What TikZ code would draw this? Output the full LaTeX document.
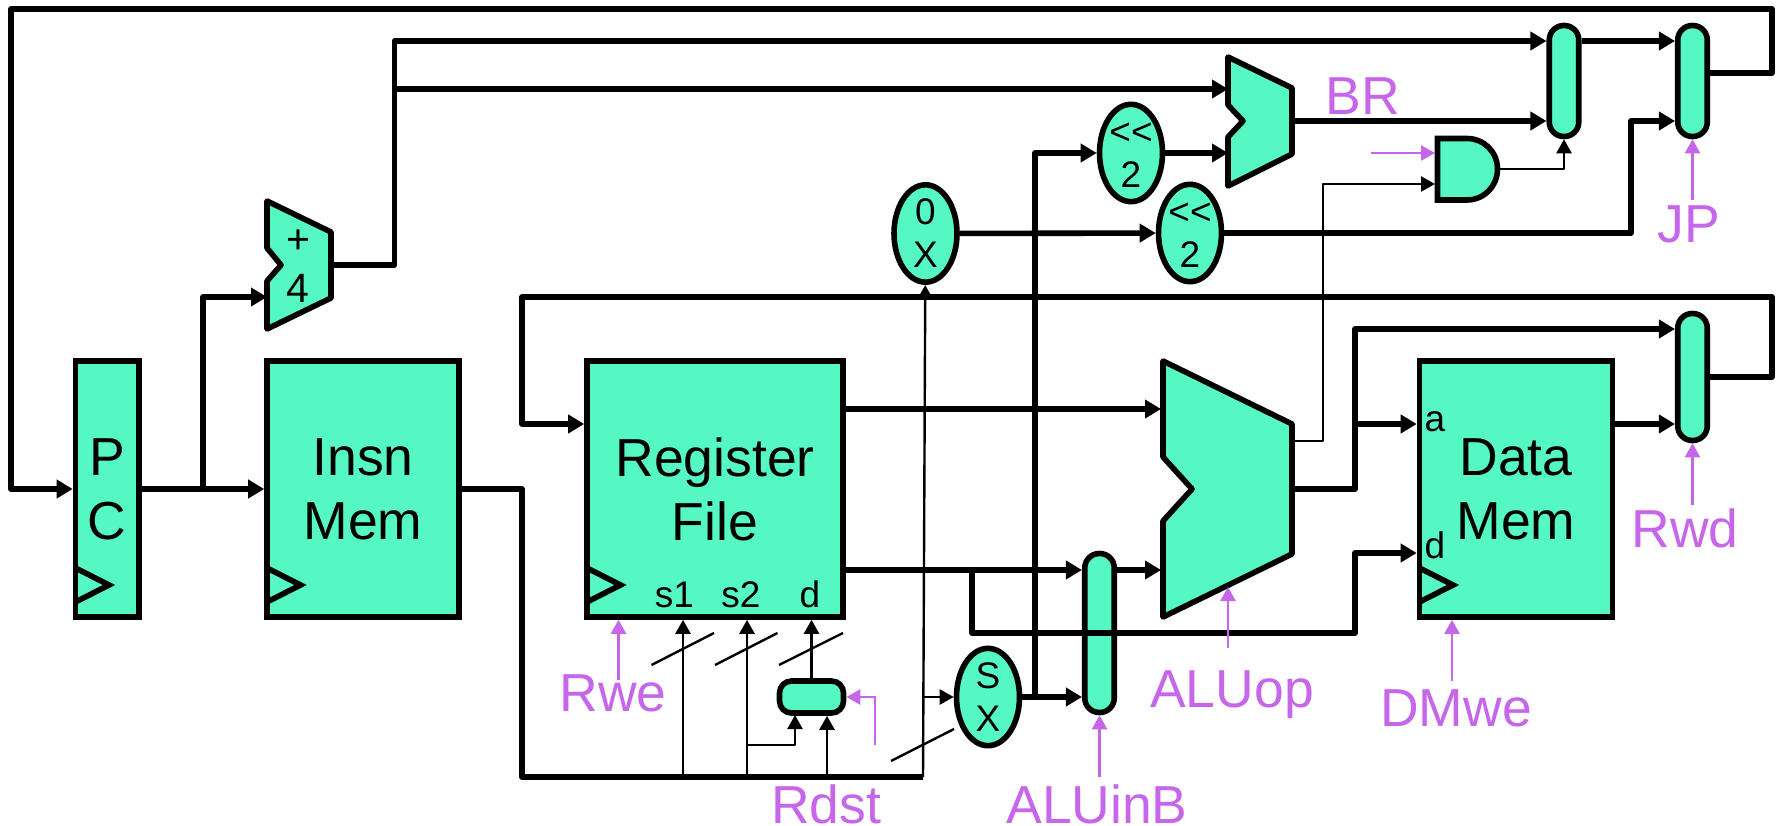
\documentclass[tikz,border=0pt]{standalone}
\usepackage{fontspec}
\setmainfont{Liberation Sans}
\usepackage{xcolor}
\usetikzlibrary{shapes.geometric,arrows.meta,positioning,calc}
\definecolor{unitgreen}{HTML}{55F7C3}
\definecolor{ctrlpurple}{HTML}{C566EB}

\begin{document}
\begin{tikzpicture}[
    x=1pt, y=-1pt,
    block/.style={rectangle, draw, line width=5.6pt, fill=unitgreen, inner sep=0pt, align=center, font=\fontsize{53.5}{64}\selectfont},
    mux/.style={rectangle, draw, line width=5.6pt, fill=unitgreen, inner sep=0pt, minimum width=29.5pt, rounded corners=14.5pt},
    oval/.style={ellipse, draw, line width=5.6pt, fill=unitgreen, inner sep=0pt, minimum width=63pt, minimum height=95pt, align=center, font=\fontsize{37}{43}\selectfont},
    unit/.style={draw, line width=5.6pt, fill=unitgreen, line join=round},
    clk/.style={draw, line width=5.6pt, line join=miter},
    pin/.style={inner sep=0pt, anchor=base, font=\fontsize{37}{43}\selectfont},
    ctrllabel/.style={inner sep=0pt, anchor=base, text=ctrlpurple, font=\fontsize{53.5}{64}\selectfont},
    wire/.style={draw, line width=5.6pt, line join=round},
    thin wire/.style={draw, line width=2.4pt, line join=round},
    ctrl/.style={draw=ctrlpurple, line width=2.5pt},
    bigtip/.style={-{Triangle[length=16pt,width=18pt]}},
    smalltip/.style={-{Triangle[length=14pt,width=15pt]}}
]
    \useasboundingbox (0,0) rectangle (1779,826);

    % Storage blocks
    \node[block, minimum width=63.5pt, minimum height=256pt] (pc) at (107.25,489) {P\\C};
    \node[block, minimum width=192pt, minimum height=256pt] (imem) at (363,489) {Insn\\Mem};
    \node[block, minimum width=256pt, minimum height=256pt] (regfile) at (715,489) {Register\\File};
    \node[block, minimum width=193pt, minimum height=256pt] (dmem) at (1516,489) {Data\\Mem};

    % Clock marks
    \draw[clk] (75.5,568) -- (109,585) -- (75.5,602);
    \draw[clk] (267,568) -- (300.5,585) -- (267,602);
    \draw[clk] (587,568) -- (620.5,585) -- (587,602);
    \draw[clk] (1419.5,568) -- (1453,585) -- (1419.5,602);

    % Pin names
    \node[pin] (s1pin) at (674.5,607) {s1};
    \node[pin] (s2pin) at (741,607) {s2};
    \node[pin] (dpin) at (810,607) {d};
    \node[pin] (apin) at (1435,431) {a};
    \node[pin] (dmpin) at (1435,558) {d};

    % Adders and ALU
    \draw[unit] (267,201) -- (331,232) -- (331,298) -- (267,329) -- (267,281) -- (281,265) -- (267,248) -- cycle;
    \node[inner sep=0pt, align=center, font=\fontsize{41}{49}\selectfont] (plusfour) at (298,266) {+\\4};
    \draw[unit] (1228,57) -- (1292,88) -- (1292,154) -- (1228,186) -- (1228,137) -- (1243,121) -- (1228,105) -- cycle;
    \draw[unit] (1163,361) -- (1292,424) -- (1292,554) -- (1163,617) -- (1163,521) -- (1192,489) -- (1163,457) -- cycle;

    % AND gate
    \draw[unit, line join=miter] (1437.5,138.5) -- (1467,138.5) .. controls (1484,138.5) and (1497.5,152) .. (1497.5,169) .. controls (1497.5,186) and (1484,200) .. (1467,200) -- (1437.5,200) -- cycle;

    % Ovals
    \node[oval] (zx) at (925.5,233.5) {0\\X};
    \node[oval] (sx) at (988,697) {S\\X};
    \node[oval] (shifta) at (1131,153) {\vphantom{0}<\kern0pt<\\2};
    \node[oval] (shiftb) at (1190,233) {\vphantom{0}<\kern0pt<\\2};

    % Muxes
    \node[mux, minimum height=111pt] (pcmuxa) at (1564,81) {};
    \node[mux, minimum height=111pt] (pcmuxb) at (1692.5,81) {};
    \node[mux, minimum height=127pt] (wdmux) at (1692.5,377) {};
    \node[mux, minimum height=159pt] (alumux) at (1099.5,633) {};
    \node[mux, minimum width=64pt, minimum height=32pt, rounded corners=12pt] (rdmux) at (811.5,697) {};

    % Ports
    \coordinate (addin) at (267,297);
    \coordinate (addout) at (331,265);
    \coordinate (brina) at (1228,89);
    \coordinate (brinb) at (1228,153);
    \coordinate (brout) at (1292,121);
    \coordinate (aluina) at (1161,409);
    \coordinate (aluinb) at (1161,570);
    \coordinate (aluout) at (1292,489);
    \coordinate (aluzero) at (1292,441);
    \coordinate (andina) at (1435,153);
    \coordinate (andinb) at (1435,184);
    \coordinate (andout) at (1500,169);
    \coordinate (busa) at (683,777);
    \coordinate (busb) at (747,777);
    \coordinate (busc) at (827,777);
    \coordinate (busd) at (923,777);
    \coordinate (busleft) at (522,777);

    % Next PC
    \draw[wire, bigtip] (pc) -- (imem);
    \draw[wire, bigtip] (203,489) |- (addin);
    \draw[wire, bigtip] (addout) -- (394.5,265) -- (394.5,41) -- (pcmuxa.west |- 0,41);
    \draw[wire, bigtip] (394.5,89) -- (brina);
    \draw[wire, bigtip] (shifta) -- (brinb);
    \draw[wire, bigtip] (brout) -- (pcmuxa.west |- brout);
    \draw[wire, bigtip] (pcmuxa.east |- 0,41) -- (pcmuxb.west |- 0,41);
    \draw[wire, bigtip] (shiftb) -- (1631,233) -- (1631,121) -- (pcmuxb.west |- 0,121);
    \draw[wire, bigtip] (pcmuxb.east |- 0,73) -- (1772,73) -- (1772,9) -- (11,9) -- (11,489) -- (pc);

    % Instruction bus
    \draw[wire] (imem) -- (522,489) -- (busleft) -- (busd);
    \draw[thin wire, smalltip] (busd) -- (zx);
    \draw[thin wire, smalltip] (924,697) -- (sx);
    \draw[thin wire, smalltip] (busa) -- (busa |- regfile.south);
    \draw[thin wire, smalltip] (busb) -- (busb |- regfile.south);
    \draw[thin wire, smalltip] (busc) -- (busc |- rdmux.south);
    \draw[thin wire, smalltip] (747,745) -- (795,745) -- (795,715);
    \draw[thin wire, smalltip] (rdmux) -- (rdmux |- regfile.south);
    \draw[wire, bigtip] (zx) -- (shiftb);

    % Bus slashes
    \draw[thin wire] (651.5,665) -- (714,633);
    \draw[thin wire] (715,665) -- (777.5,633);
    \draw[thin wire] (779,665) -- (843,633);
    \draw[thin wire] (891,761) -- (954,729);

    % Datapath
    \draw[wire, bigtip] (regfile.east |- aluina) -- (aluina);
    \draw[wire, bigtip] (regfile.east |- aluinb) -- (alumux.west |- aluinb);
    \draw[wire, bigtip] (alumux.east |- aluinb) -- (aluinb);
    \draw[wire, bigtip] (sx) -- (alumux.west |- sx);
    \draw[wire, bigtip] (1035,697) -- (1035,153) -- (shifta);
    \draw[wire, bigtip] (972,570) -- (972,633) -- (1355,633) -- (1355,553) -- (dmem.west |- 0,553);
    \draw[wire, bigtip] (aluout) -- (1355,489) -- (1355,329) -- (wdmux.west |- 0,329);
    \draw[wire, bigtip] (1355,424) -- (dmem.west |- 0,424);
    \draw[wire, bigtip] (dmem.east |- 0,424) -- (wdmux.west |- 0,424);
    \draw[wire, bigtip] (wdmux) -- (1772,377) -- (1772,297) -- (522,297) -- (522,424) -- (regfile.west |- 0,424);
    \draw[thin wire, smalltip] (aluzero) -- (1323,441) -- (1323,184) -- (andinb);
    \draw[thin wire, smalltip] (andout) -- (1564,169) -- (pcmuxa);

    % Control labels
    \node[ctrllabel] (brlabel) at (1363,115) {BR};
    \node[ctrllabel] (jplabel) at (1689,243) {JP};
    \node[ctrllabel] (rwdlabel) at (1685,547) {Rwd};
    \node[ctrllabel] (rwelabel) at (613,711) {Rwe};
    \node[ctrllabel] (rdstlabel) at (826,823) {Rdst};
    \node[ctrllabel] (aluoplabel) at (1232,707) {ALUop};
    \node[ctrllabel] (aluinblabel) at (1097,823) {ALUinB};
    \node[ctrllabel] (dmwelabel) at (1456,726) {DMwe};

    \coordinate (jpctl) at (1692.5,200);
    \coordinate (rwdctl) at (1692.5,505);
    \coordinate (rwectl) at (618.5,680);
    \coordinate (rdstctl) at (875,745);
    \coordinate (aluopctl) at (1228,648);
    \coordinate (aluinbctl) at (1099.5,777);
    \coordinate (dmwectl) at (1452,681);
    \coordinate (andctl) at (1371,153);

    % Control arrows
    \draw[ctrl, smalltip] (jpctl) -- (pcmuxb);
    \draw[ctrl, smalltip] (rwdctl) -- (wdmux);
    \draw[ctrl, smalltip] (rwectl) -- (rwectl |- regfile.south);
    \draw[ctrl, smalltip] (rdstctl) -- (875,697) -- (rdmux);
    \draw[ctrl, smalltip] (aluopctl) -- (1228,587);
    \draw[ctrl, smalltip] (aluinbctl) -- (alumux);
    \draw[ctrl, smalltip] (dmwectl) -- (dmwectl |- dmem.south);
    \draw[ctrl, smalltip] (andctl) -- (andina);
\end{tikzpicture}
\end{document}
